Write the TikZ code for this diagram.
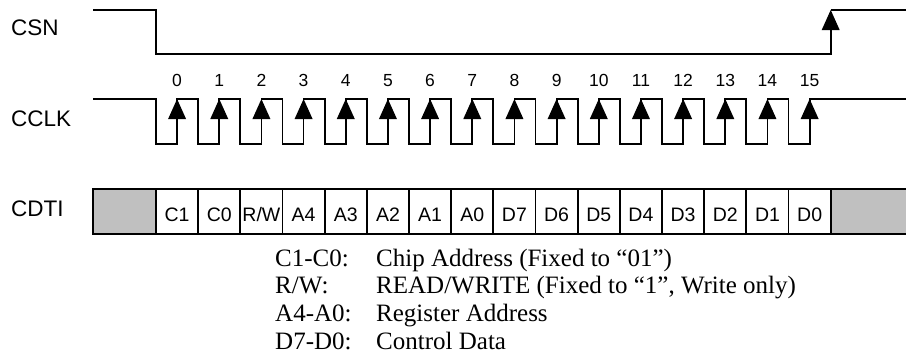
\documentclass[tikz,border=0pt]{standalone}
\usepackage{fontspec}
\setmainfont{Liberation Serif}
\newfontfamily\arialf{Liberation Sans}
\begin{document}
\begin{tikzpicture}[x=1pt,y=-1pt,
  wave/.style={line width=1.8pt,line join=miter,line cap=butt},
  sig/.style={font=\arialf\fontsize{22.5}{26}\selectfont,anchor=base west,inner sep=0pt},
  num/.style={font=\arialf\fontsize{17.5}{20}\selectfont,anchor=base,inner sep=0pt},
  cell/.style={font=\arialf\fontsize{19.5}{22}\selectfont,anchor=base,inner sep=0pt},
  leg/.style={font=\fontsize{25}{28}\selectfont,anchor=base west,inner sep=0pt},
  graycell/.style={fill={rgb,255:red,192;green,192;blue,192}},
  head/.style={fill=black}]
\useasboundingbox (0,0) rectangle (906,360);
\def\p{42.17}
\def\xo{156}
% labels
\node[sig] (csn) at (11,35.7) {CSN};
\node[sig] (cclk) at (11,126.7) {CCLK};
\node[sig] (cdti) at (11,216) {CDTI};
% CSN
\draw[wave] (93,10) -- (156,10) -- (156,54) -- (830.7,54) -- (830.7,12) (830.7,10) -- (906,10);
\fill[head] (830.7,10) -- (821.7,30) -- (839.7,30) -- cycle;
% CCLK
\draw[wave] (93,99) foreach \k in {0,...,15} {
  -- ({\xo+\k*\p},99) -- ({\xo+\k*\p},144) -- ({\xo+\k*\p+\p/2},144) -- ({\xo+\k*\p+\p/2},99)
} -- (906,99);
\foreach \k in {0,...,15} {
  \fill[head] ({\xo+\k*\p+\p/2},99) -- ++(-9,20) -- ++(18,0) -- cycle;
  \node[num] (n\k) at ({\xo+\k*\p+\p/2},86.5) {\k};
}
% CDTI
\fill[graycell] (93,189) rectangle (\xo,234);
\fill[graycell] ({\xo+16*\p},189) rectangle (906,234);
\draw[wave] (93,189) -- (906,189) (93,234) -- (906,234) (93,188.1) -- (93,234.9);
\foreach \k in {0,...,16} {
  \draw[wave] ({\xo+\k*\p},189) -- ({\xo+\k*\p},234);
}
\foreach \t [count=\i from 0] in {C1,C0,R/W,A4,A3,A2,A1,A0,D7,D6,D5,D4,D3,D2,D1,D0} {
  \node[cell] (c\i) at ({\xo+\i*\p+\p/2},221.7) {\t};
}
% legend
\node[leg] (l1a) at (275,266) {C1-C0:};
\node[leg] (l1b) at (376,266) {Chip Address (Fixed to “01”)};
\node[leg] (l2a) at (275,293.7) {R/W:};
\node[leg] (l2b) at (376,293.7) {READ/WRITE (Fixed to “1”, Write only)};
\node[leg] (l3a) at (275,321.4) {A4-A0:};
\node[leg] (l3b) at (376,321.4) {Register Address};
\node[leg] (l4a) at (275,349.1) {D7-D0:};
\node[leg] (l4b) at (376,349.1) {Control Data};
\end{tikzpicture}
\end{document}
